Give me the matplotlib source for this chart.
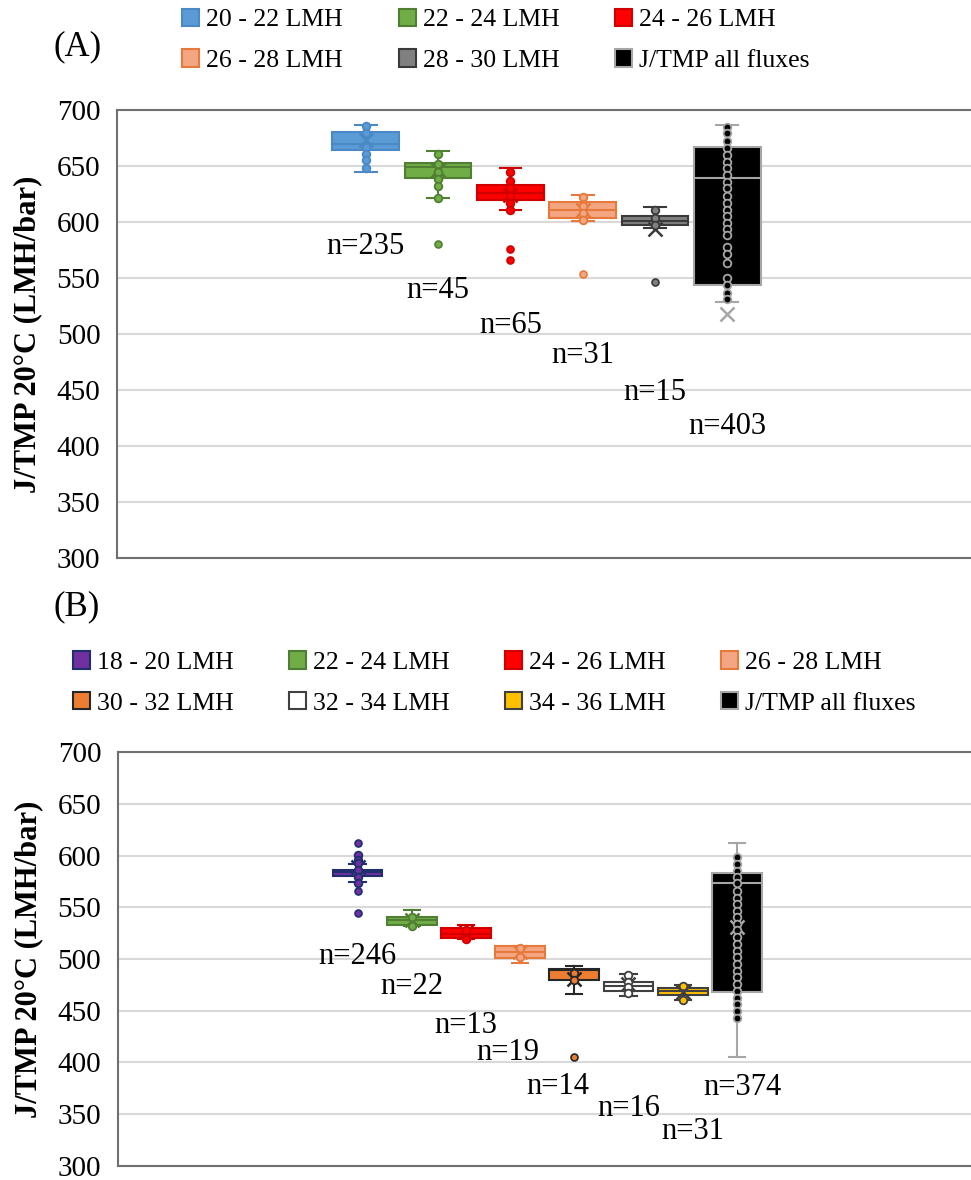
import numpy as np
import matplotlib
matplotlib.use("Agg")
import matplotlib.pyplot as plt
from matplotlib.patches import Patch

plt.rcParams["font.family"] = ["Liberation Serif", "DejaVu Serif"]

# ---- panel A : J/TMP per flux band ----
a_labels = ["20 - 22 LMH", "22 - 24 LMH", "24 - 26 LMH", "26 - 28 LMH", "28 - 30 LMH", "J/TMP all fluxes"]
a_whislo = [645.0, 621.0, 611.0, 601.0, 595.0, 529.0]
a_q1 = [664.0, 639.0, 620.0, 604.0, 597.0, 544.0]
a_med = [670.0, 649.0, 626.0, 611.0, 601.0, 639.0]
a_q3 = [680.0, 653.0, 633.0, 618.0, 605.0, 667.0]
a_whishi = [687.0, 663.0, 648.0, 624.0, 613.0, 687.0]
a_mean = [673.0, 646.0, 624.0, 611.0, 594.0, 518.0]
a_points = [
    [686, 679, 667, 661, 655, 648],
    [661, 652, 645, 638, 632, 621],
    [645, 637, 630, 623, 617, 611],
    [622, 614, 608, 602],
    [611, 604, 597],
    [685, 679, 672, 666, 660, 654, 648, 642, 636, 630, 623, 617, 611, 605, 599,
     594, 588, 578, 571, 563, 550, 544, 537, 531],
]
a_outliers = [[], [580], [576, 566], [554], [546], []]
a_n = [235, 45, 65, 31, 15, 403]
a_n_y = [578, 539, 508, 481, 448, 417]
a_face = ["#5B9BD5", "#70AD47", "#FF0000", "#F4A682", "#808080", "#000000"]
a_edge = ["#4A88C6", "#507E32", "#D00000", "#E57A3C", "#3A3A3A", "#A6A6A6"]

# ---- panel B ----
b_labels = ["18 - 20 LMH", "22 - 24 LMH", "24 - 26 LMH", "26 - 28 LMH",
            "30 - 32 LMH", "32 - 34 LMH", "34 - 36 LMH", "J/TMP all fluxes"]
b_whislo = [574.6, 531.7, 519.1, 496.3, 466.0, 464.4, 460.2, 405.4]
b_q1 = [580.4, 533.0, 519.8, 501.1, 479.5, 468.9, 465.6, 468.2]
b_med = [583.6, 537.5, 524.6, 506.9, 489.2, 473.7, 468.9, 573.6]
b_q3 = [585.9, 540.7, 530.4, 512.4, 490.8, 477.9, 472.1, 583.3]
b_whishi = [591.7, 547.2, 533.3, 512.7, 493.4, 485.3, 474.7, 611.7]
b_mean = [589.0, 537.5, 526.3, 506.9, 481.1, 476.3, 468.3, 531.3]
b_points = [
    [600.4, 595.6, 592.3, 585.9, 579.4, 573.0],
    [540.7, 531.7],
    [527.9, 519.1],
    [510.8, 502.1],
    [486.6, 480.0],
    [484.3, 477.9, 473.4, 467.3],
    [474.1, 460.8],
    [598.1, 591.7, 585.2, 578.8, 573.0, 565.9, 559.4, 553.6, 546.5, 540.1, 533.7,
     527.9, 521.4, 514.3, 507.9, 502.1, 495.0, 488.5, 482.7, 476.3, 469.2, 462.7,
     456.3, 449.8, 443.4],
]
b_outliers = [[611.7, 565.9, 544.6], [], [], [], [405.4], [], [], []]
b_n = [246, 22, 13, 19, 14, 16, 31, 374]
b_n_y = [502, 473, 436, 410, 377, 356, 333, 376]
b_n_dx = [0, 0, 0, -0.22, -0.3, 0, 0.18, 0.1]
b_face = ["#7030A0", "#70AD47", "#FF0000", "#F4A682", "#ED7D31", "#FFFFFF", "#FFC000", "#000000"]
b_edge = ["#1F2F6E", "#507E32", "#D00000", "#E57A3C", "#262626", "#404040", "#404040", "#A6A6A6"]


def draw_panel(ax, whislo, q1, med, q3, whishi, mean, points, outliers, face, edge,
               ns, n_y, n_dx=None):
    for i in range(len(med)):
        pos = i + 1
        st = dict(whislo=whislo[i], q1=q1[i], med=med[i], q3=q3[i], whishi=whishi[i],
                  mean=mean[i], fliers=outliers[i], label="")
        fc, ec = face[i], edge[i]
        ax.bxp([st], positions=[pos], widths=0.92, patch_artist=True,
               showmeans=True, showfliers=True, manage_ticks=False, capwidths=0.3,
               boxprops=dict(facecolor=fc, edgecolor=ec, linewidth=1.5),
               medianprops=dict(color=ec, linewidth=1.5),
               whiskerprops=dict(color=ec, linewidth=1.5),
               capprops=dict(color=ec, linewidth=1.5),
               meanprops=dict(marker="x", markeredgecolor=ec, markersize=10, markeredgewidth=1.8),
               flierprops=dict(marker="o", markerfacecolor=fc, markeredgecolor=ec,
                               markersize=5, markeredgewidth=1.2),
               zorder=3)
        pts = points[i]
        ax.plot([pos] * len(pts), pts, "o", ms=5.5, mfc=fc, mec=ec, mew=1.3, zorder=4)
        dx = 0 if n_dx is None else n_dx[i]
        ax.text(pos + dx, n_y[i], "n=%d" % ns[i], ha="center", va="center", fontsize=22, zorder=5)

    ax.set_ylim(300, 700)
    ax.set_yticks(np.arange(300, 701, 50))
    ax.set_xticks([])
    ax.yaxis.grid(True, color="#d9d9d9", lw=1.5)
    ax.set_axisbelow(True)
    ax.tick_params(axis="y", length=0, pad=12, labelsize=21)
    for s in ["left", "bottom", "top"]:
        ax.spines[s].set_color("#707070")
        ax.spines[s].set_linewidth(1.5)
    ax.spines["right"].set_visible(False)
    ax.set_ylabel("J/TMP 20°C (LMH/bar)", fontsize=22, fontweight="bold")
    ax.yaxis.set_label_coords(-0.088, 0.5)


def row_order(items, ncol):
    # matplotlib fills legend columns first; reorder so entries read row by row
    nrow = int(np.ceil(len(items) / ncol))
    return [items[r * ncol + c] for c in range(ncol) for r in range(nrow)]


fig = plt.figure(figsize=(9.71, 11.8), dpi=100)

ax_a = fig.add_axes([0.1205, 0.5271, 0.8795, 0.3797])
draw_panel(ax_a, a_whislo, a_q1, a_med, a_q3, a_whishi, a_mean, a_points, a_outliers,
           a_face, a_edge, a_n, a_n_y)
ax_a.set_xlim(-2.44, 9.37)

ax_b = fig.add_axes([0.1215, 0.0119, 0.8785, 0.3508])
draw_panel(ax_b, b_whislo, b_q1, b_med, b_q3, b_whishi, b_mean, b_points, b_outliers,
           b_face, b_edge, b_n, b_n_y, b_n_dx)
ax_b.set_xlim(-3.42, 12.32)

# legends
leg_kw = dict(loc="upper left", frameon=False, fontsize=18.5, handlelength=0.66,
              handleheight=0.66, handletextpad=0.27, columnspacing=2.17, labelspacing=0.7)
h_a = [Patch(facecolor=f, edgecolor=e, lw=1.5) for f, e in zip(a_face, a_edge)]
fig.legend(row_order(h_a, 3), row_order(a_labels, 3), bbox_to_anchor=(0.164, 1.0122),
           ncol=3, **leg_kw)

h_b = [Patch(facecolor=f, edgecolor=e, lw=1.5) for f, e in zip(b_face, b_edge)]
fig.legend(row_order(h_b, 4), row_order(b_labels, 4), bbox_to_anchor=(0.051, 0.4675),
           ncol=4, **leg_kw)

fig.text(0.055, 1 - 47 / 1180, "(A)", fontsize=25, va="center", ha="left")
fig.text(0.055, 1 - 607 / 1180, "(B)", fontsize=25, va="center", ha="left")

fig.savefig("out.png", dpi=100)
